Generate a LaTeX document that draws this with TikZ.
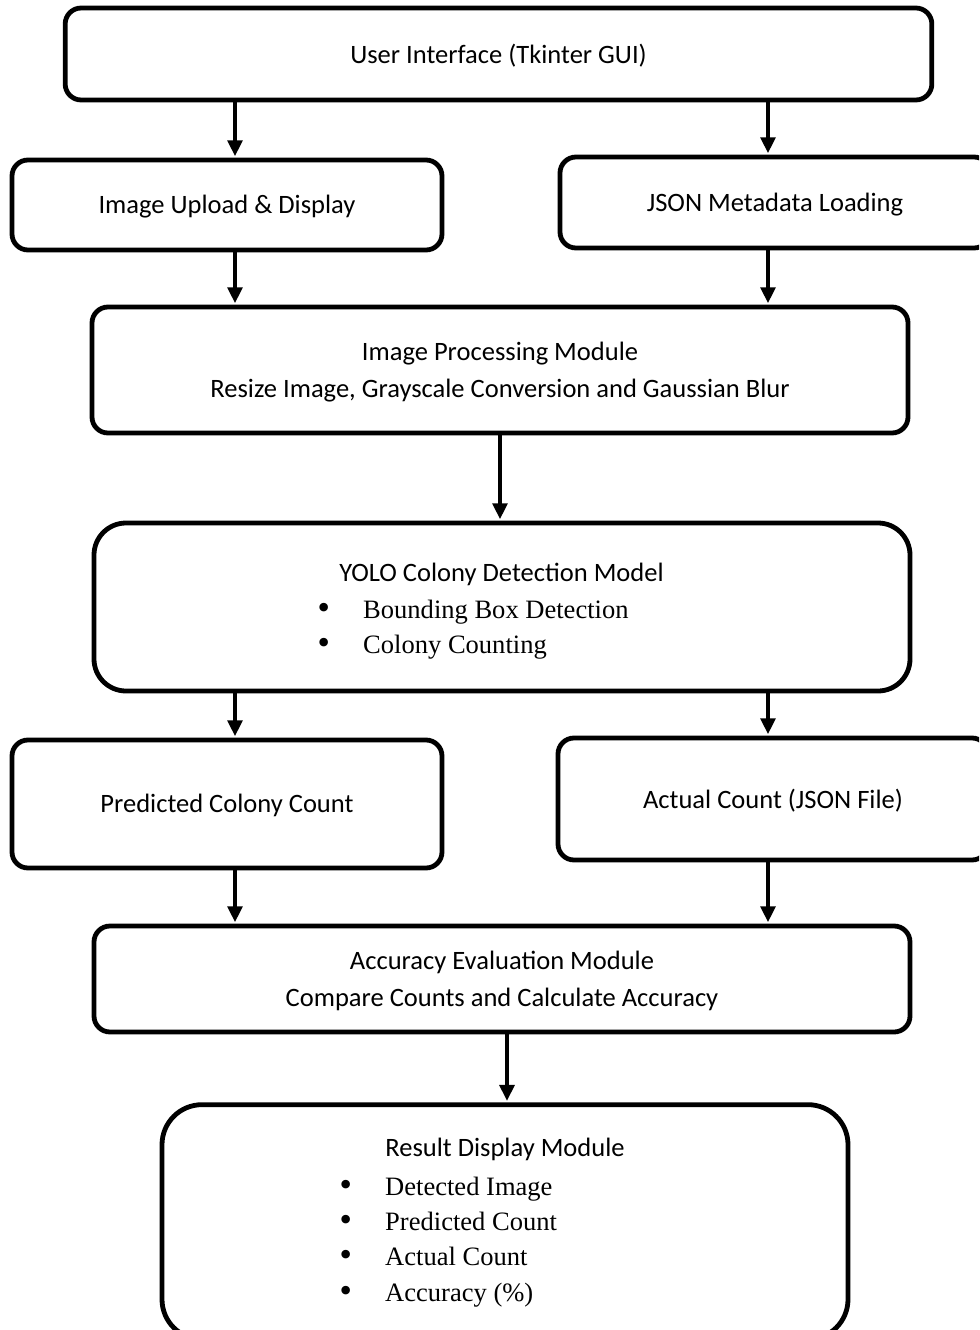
\documentclass[tikz,border=0pt]{standalone}
\usepackage{fontspec}
\setmainfont{Carlito}
\newfontfamily\bulletfont{Liberation Serif}
\newfontfamily\dotfont{DejaVu Sans}
\newcommand{\itemdot}{{\dotfont\fontsize{22}{22}\selectfont\symbol{"2022}}}
\usetikzlibrary{arrows.meta}

\begin{document}
\begin{tikzpicture}[
    x=0.75pt, y=-0.75pt,
    >={Triangle[width=11pt,length=12pt]},
    box/.style={draw, line width=3.6pt, rounded corners=12pt, fill=white,
      font=\fontsize{19.9}{27.7}\selectfont, align=center, inner sep=0pt, text depth=1pt},
    bigbox/.style={box, rounded corners=24pt},
    boxtext/.style={font=\fontsize{19.9}{27.7}\selectfont, inner sep=0pt},
    items/.style={font=\bulletfont\fontsize{19.9}{26.5}\selectfont, inner sep=0pt, anchor=west},
    flow/.style={->, line width=3pt, shorten >=1pt}
  ]

  % page
  \fill[white] (0,0) rectangle (979,1330);
  \useasboundingbox (0,0) rectangle (979,1330);
  \clip (0,0) rectangle (979,1330);

  % --- BOXES ---
  \node[box, minimum width=650pt, minimum height=69pt] (gui) at (498.5,54) {User Interface (Tkinter GUI)};
  \node[box, minimum width=322.5pt, minimum height=67.5pt] (upload) at (227,205) {Image Upload \& Display};
  \node[box, minimum width=322.5pt, minimum height=68.25pt] (json) at (775,202.5) {JSON Metadata Loading};
  \node[box, minimum width=612pt, minimum height=94.5pt] (proc) at (500,370)
    {Image Processing Module\\Resize Image, Grayscale Conversion and Gaussian Blur};
  \node[bigbox, minimum width=612pt, minimum height=126pt] (yolo) at (502,607) {};
  \node[box, minimum width=322.5pt, minimum height=96pt] (pred) at (227,804) {Predicted Colony Count};
  \node[box, minimum width=322.5pt, minimum height=91.5pt] (actual) at (773,799) {Actual Count (JSON File)};
  \node[box, minimum width=612pt, minimum height=79.5pt] (acc) at (502,979)
    {Accuracy Evaluation Module\\Compare Counts and Calculate Accuracy};
  \node[bigbox, rounded corners=30pt, minimum width=514.5pt, minimum height=176pt] (result) at (505,1222) {};

  % --- BOX CONTENTS ---
  \node[boxtext] (yolotitle) at (501.5,574) {YOLO Colony Detection Model};
  \node[items] (yololist) at (315,629) {\begin{tabular}{@{}l@{\hspace{23pt}}l@{}}
      \itemdot & Bounding Box Detection\\
      \itemdot & Colony Counting
    \end{tabular}};
  \node[boxtext] (resulttitle) at (505,1149) {Result Display Module};
  \node[items] (resultlist) at (337,1241) {\begin{tabular}{@{}l@{\hspace{23pt}}l@{}}
      \itemdot & Detected Image\\
      \itemdot & Predicted Count\\
      \itemdot & Actual Count\\
      \itemdot & Accuracy (\%)
    \end{tabular}};

  % --- ARROWS ---
  \coordinate (lcol) at (235,0);
  \coordinate (rcol) at (768,0);
  \coordinate (mid1) at (500,0);
  \coordinate (mid2) at (507,0);

  \draw[flow] (gui.south -| lcol) -- (upload.north -| lcol);
  \draw[flow] (gui.south -| rcol) -- (json.north -| rcol);
  \draw[flow] (upload.south -| lcol) -- (proc.north -| lcol);
  \draw[flow] (json.south -| rcol) -- (proc.north -| rcol);
  \draw[flow] (proc.south -| mid1) -- (yolo.north -| mid1);
  \draw[flow] (yolo.south -| lcol) -- (pred.north -| lcol);
  \draw[flow] (yolo.south -| rcol) -- (actual.north -| rcol);
  \draw[flow] (pred.south -| lcol) -- (acc.north -| lcol);
  \draw[flow] (actual.south -| rcol) -- (acc.north -| rcol);
  \draw[flow] (acc.south -| mid2) -- (result.north -| mid2);

\end{tikzpicture}
\end{document}
